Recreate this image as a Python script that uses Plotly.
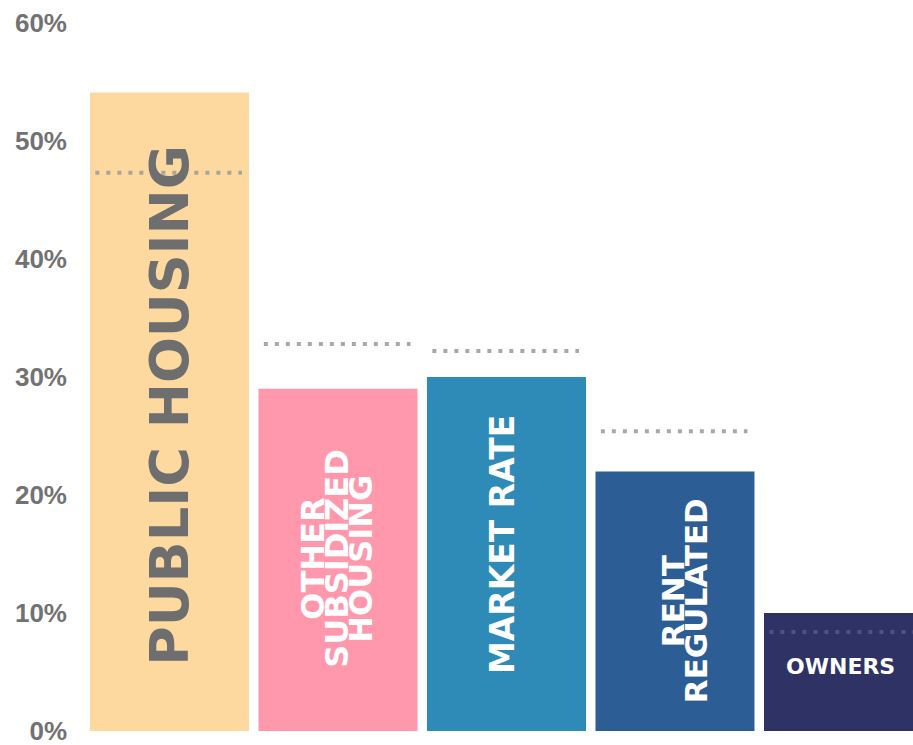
import plotly.graph_objects as go

categories = ["Public Housing", "Other Subsidized Housing", "Market Rate", "Rent Regulated", "Owners"]
values = [54.1, 29.0, 30.0, 22.0, 10.0]
reference = [47.3, 32.8, 32.2, 25.4, 8.4]
bar_colors = ["#FDD9A0", "#FF98AD", "#2E8BB8", "#2C5D95", "#2E3265"]
ref_colors = ["#a9a49d", "#a8a8a8", "#a8a8a8", "#a8a8a8", "#4f5283"]
tick_vals = [0, 10, 20, 30, 40, 50, 60]
tick_text = ["0%", "10%", "20%", "30%", "40%", "50%", "60%"]

# label lines: (category index, text, y position in %, xshift px, font size, color, angle)
label_lines = [
    (0, "PUBLIC HOUSING", 27.6, 0, 54, "#6e6e6e", -90),
    (1, "OTHER", 14.6, -25, 32, "#ffffff", -90),
    (1, "SUBSIDIZED", 14.6, -1, 32, "#ffffff", -90),
    (1, "HOUSING", 14.6, 23, 32, "#ffffff", -90),
    (2, "MARKET RATE", 15.8, -4, 33, "#ffffff", -90),
    (3, "RENT", 11.0, -2, 31, "#ffffff", -90),
    (3, "REGULATED", 11.0, 21, 31, "#ffffff", -90),
    (4, "OWNERS", 5.5, -3, 22, "#ffffff", 0),
]

fig = go.Figure()
fig.add_trace(go.Bar(
    x=categories, y=values,
    marker=dict(color=bar_colors, line=dict(width=0)),
    width=0.9436,
    hoverinfo="skip",
))

for i, r in enumerate(reference):
    fig.add_shape(type="line", xref="x", yref="y",
                  x0=i - 0.44, x1=i + 0.43, y0=r, y1=r,
                  line=dict(color=ref_colors[i], width=4, dash="4px,7px"),
                  layer="above")

for idx, txt, yy, xs, fs, col, ang in label_lines:
    fig.add_annotation(x=idx, y=yy, xref="x", yref="y", text=txt,
                       showarrow=False, textangle=ang, xshift=xs,
                       font=dict(family="DejaVu Sans", size=fs, color=col, weight="bold"))

fig.update_layout(
    width=913, height=745,
    margin=dict(l=80, r=0, t=23, b=14),
    paper_bgcolor="white", plot_bgcolor="white",
    showlegend=False,
    bargap=0.05,
    xaxis=dict(range=[-0.5312, 4.4125], showticklabels=False, showgrid=False,
               zeroline=False, showline=False, ticks=""),
    yaxis=dict(range=[0, 60], tickvals=tick_vals, ticktext=tick_text,
               showgrid=False, zeroline=False, showline=False, ticks="",
               ticklabelstandoff=12, ticklabeloverflow="allow",
               tickfont=dict(family="Liberation Sans", size=26, color="#727272", weight="bold")),
)

fig.write_html("out.html")
